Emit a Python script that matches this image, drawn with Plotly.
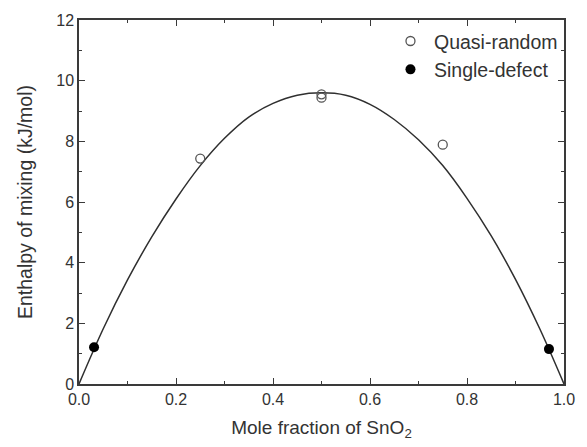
import plotly.graph_objects as go

# Fitted enthalpy-of-mixing curve
curve_x = [0.0, 0.05, 0.10, 0.15, 0.20, 0.25, 0.30, 0.35, 0.40, 0.45, 0.50,
           0.55, 0.60, 0.65, 0.70, 0.75, 0.80, 0.85, 0.90, 0.95, 1.0]
curve_y = [0.0, 1.82, 3.43, 4.85, 6.10, 7.20, 8.10, 8.80, 9.25, 9.52, 9.60,
           9.52, 9.22, 8.72, 8.05, 7.20, 6.12, 4.88, 3.45, 1.82, 0.0]

# Quasi-random structures
qr_x = [0.25, 0.50, 0.50, 0.75]
qr_y = [7.43, 9.55, 9.44, 7.89]

# Single-defect calculations
sd_x = [0.031, 0.969]
sd_y = [1.21, 1.15]

x_ticks = [0.0, 0.2, 0.4, 0.6, 0.8, 1.0]
y_ticks = [0, 2, 4, 6, 8, 10, 12]

FONT = "Liberation Sans, Arial, sans-serif"
TXT = "#333333"
AX = "#3a3a3a"

fig = go.Figure()
fig.add_trace(go.Scatter(x=curve_x, y=curve_y, mode="lines",
                         line=dict(color="#2f2f2f", width=1.5, shape="spline", smoothing=1.0),
                         showlegend=False, hoverinfo="skip"))
fig.add_trace(go.Scatter(x=qr_x, y=qr_y, mode="markers", name="Quasi-random",
                         marker=dict(symbol="circle-open", size=9, color="#555555",
                                     line=dict(width=1.3, color="#555555"))))
fig.add_trace(go.Scatter(x=sd_x, y=sd_y, mode="markers", name="Single-defect",
                         marker=dict(symbol="circle", size=10, color="#000000")))

axis_common = dict(showline=True, linecolor=AX, linewidth=1.5, mirror="ticks",
                   ticks="inside", ticklen=6, tickwidth=1.3, tickcolor=AX,
                   showgrid=False, zeroline=False,
                   tickfont=dict(family=FONT, size=16, color=TXT))

fig.update_xaxes(range=[0, 1], tickvals=x_ticks, tickformat=".1f",
                 minor=dict(dtick=0.1, ticks="inside", ticklen=3.5, tickcolor=AX, tickwidth=1.2),
                 title=dict(text="Mole fraction of SnO<sub>2</sub>",
                            font=dict(family=FONT, size=19, color=TXT), standoff=14),
                 **axis_common)
fig.update_yaxes(range=[0, 12], tickvals=y_ticks,
                 minor=dict(dtick=1, ticks="inside", ticklen=3.5, tickcolor=AX, tickwidth=1.2),
                 title=dict(text="Enthalpy of mixing (kJ/mol)",
                            font=dict(family=FONT, size=19.5, color=TXT), standoff=18),
                 **axis_common)

fig.update_layout(width=587, height=447,
                  margin=dict(l=79, r=14, t=18, b=63),
                  paper_bgcolor="white", plot_bgcolor="white",
                  font=dict(family=FONT, color=TXT),
                  legend=dict(x=0.635, y=0.995, xanchor="left", yanchor="top",
                              bgcolor="rgba(0,0,0,0)", borderwidth=0,
                              font=dict(family=FONT, size=19.5, color=TXT),
                              itemwidth=37,
                              itemsizing="trace", tracegroupgap=0))

fig.write_html("out.html")
